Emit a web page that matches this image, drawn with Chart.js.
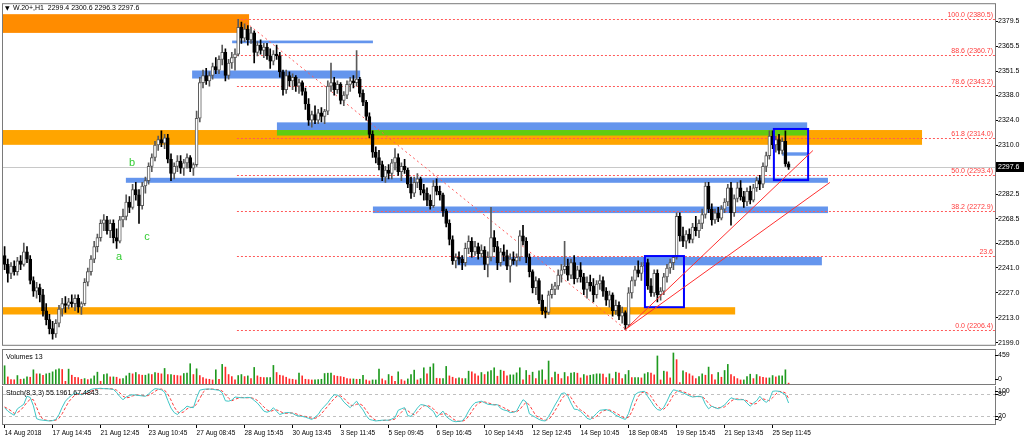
<!DOCTYPE html>
<html>
<head>
<meta charset="utf-8">
<script src="https://cdn.jsdelivr.net/npm/chart.js@4.4.0/dist/chart.umd.min.js"></script>
<style>
  html, body { margin: 0; padding: 0; background: #fff; overflow: hidden; }
  #wrap { position: relative; width: 1024px; height: 441px; }
  canvas { position: absolute; left: 0; }
</style>
</head>
<body>
<div id="wrap">
  <canvas id="priceChart" width="1024" height="349" style="top:0"></canvas>
  <canvas id="volChart" width="1024" height="36" style="top:349px"></canvas>
  <canvas id="stochChart" width="1024" height="55" style="top:386px"></canvas>
</div>
<script>
// W.20+ H1, 14 Aug - 25 Sep 2018

const symbol = 'W.20+,H1';
const dateLabels = ['14 Aug 2018', '17 Aug 14:45', '21 Aug 12:45', '23 Aug 10:45', '27 Aug 08:45',
  '28 Aug 15:45', '30 Aug 13:45', '3 Sep 11:45', '5 Sep 09:45', '6 Sep 16:45', '10 Sep 14:45',
  '12 Sep 12:45', '14 Sep 10:45', '18 Sep 08:45', '19 Sep 15:45', '21 Sep 13:45', '25 Sep 11:45'];
const LABEL_STEP = 15;   // bars between two time labels
const N_SLOTS = 310;     // bars that fit in the window (chart shift leaves the right part empty)

const priceTicks = [2379.5, 2365.5, 2351.5, 2338.0, 2324.0, 2310.0, 2282.5, 2268.5, 2255.0, 2241.0, 2227.0, 2213.0, 2199.0];
const volTicks = [459, 0];
const stochTicks = [100, 80, 20, 0];
const stochLevels = [20, 80];

const opens = [
  2248,2243,2238,2242,2239,2245,2243,2250,2246,2234, 2228,2230,2226,2217,2212,2207,2204,2210,2218,2221,
  2220,2222,2221,2224,2219,2221,2233,2239,2246,2253, 2258,2266,2268,2262,2266,2258,2256,2268,2270,2278,
  2275,2285,2282,2276,2287,2290,2298,2303,2310,2313, 2311,2314,2302,2294,2298,2301,2297,2300,2303,2297,
  2299,2325,2345,2349,2346,2349,2354,2352,2358,2362, 2349,2356,2359,2361,2376,2370,2375,2369,2373,2362,
  2366,2363,2365,2360,2357,2361,2360,2351,2341,2349, 2346,2348,2343,2345,2340,2333,2324,2327,2324,2328,
  2326,2329,2343,2345,2341,2344,2335,2338,2344,2346, 2345,2347,2339,2334,2326,2316,2306,2303,2299,2292,
  2296,2294,2300,2303,2295,2298,2296,2288,2283,2289, 2291,2285,2283,2279,2276,2287,2284,2282,2273,2266,
  2257,2245,2247,2246,2244,2252,2256,2250,2253,2249, 2251,2243,2247,2258,2253,2244,2250,2248,2242,2246,
  2245,2247,2259,2256,2247,2239,2230,2234,2223,2217, 2216,2226,2229,2231,2237,2240,2242,2237,2244,2235,
  2240,2236,2229,2233,2231,2226,2232,2234,2228,2223, 2226,2217,2220,2214,2216,2209,2227,2234,2240,2238,
  2242,2244,2231,2227,2238,2226,2228,2236,2241,2244, 2247,2270,2259,2256,2260,2257,2264,2262,2266,2271,
  2287,2274,2268,2272,2269,2274,2278,2286,2272,2280, 2286,2281,2278,2284,2279,2286,2290,2288,2298,2304,
  2315,2310,2313,2307,2312,2299.4
];
const highs = [
  2253,2246,2244,2245,2247,2248,2255,2253,2248,2236, 2233,2232,2229,2221,2215,2211,2212,2220,2224,2225,
  2224,2226,2226,2226,2222,2235,2241,2248,2256,2260, 2268,2271,2270,2268,2268,2263,2270,2274,2282,2281,
  2288,2289,2285,2289,2292,2300,2305,2312,2315,2318, 2316,2316,2305,2300,2304,2304,2302,2305,2304,2300,
  2329,2348,2352,2353,2351,2356,2359,2360,2366,2364, 2358,2362,2364,2380.5,2379,2378,2377,2376,2374,2368,
  2369,2367,2367,2364,2363,2366,2362,2352,2352,2351, 2350,2349,2347,2346,2342,2336,2329,2332,2330,2331,
  2330,2346,2356,2348,2346,2345,2340,2346,2348,2349, 2363,2348,2341,2335,2328,2318,2309,2307,2301,2298,
  2299,2302,2308,2305,2300,2302,2297,2292,2292,2294, 2292,2288,2286,2282,2290,2291,2287,2283,2274,2268,
  2259,2249,2250,2248,2255,2259,2258,2256,2255,2254, 2253,2250,2275,2262,2256,2252,2254,2251,2249,2250,
  2249,2262,2265,2258,2249,2240,2236,2235,2226,2219, 2228,2232,2233,2240,2243,2256,2246,2246,2248,2242,
  2244,2238,2236,2237,2235,2234,2237,2236,2230,2228, 2227,2223,2222,2219,2217,2230,2236,2242,2245,2244,
  2247,2246,2235,2240,2240,2230,2238,2243,2246,2248, 2272,2272,2264,2262,2263,2266,2270,2268,2274,2289,
  2289,2277,2274,2275,2276,2280,2288,2289,2282,2289, 2290,2284,2286,2287,2288,2292,2293,2300,2306,2318,
  2318,2315,2316,2314,2318,2300.6
];
const lows = [
  2240,2233,2235,2237,2237,2240,2242,2244,2232,2225, 2224,2222,2214,2209,2204,2201,2202,2208,2214,2216,
  2218,2219,2217,2216,2215,2220,2231,2237,2244,2250, 2256,2262,2260,2258,2255,2252,2255,2264,2268,2272,
  2274,2279,2266,2274,2283,2288,2295,2301,2307,2309, 2308,2300,2290,2291,2295,2294,2293,2297,2295,2293,
  2298,2323,2342,2344,2343,2347,2350,2350,2355,2346, 2347,2353,2352,2360,2367,2368,2366,2367,2356,2360,
  2361,2359,2358,2353,2355,2358,2348,2338,2339,2343, 2341,2340,2339,2338,2330,2321,2320,2322,2322,2323,
  2322,2327,2340,2338,2339,2333,2332,2336,2340,2342, 2343,2337,2332,2324,2314,2303,2300,2296,2290,2289,
  2291,2291,2296,2293,2290,2294,2286,2280,2281,2286, 2282,2279,2276,2274,2275,2282,2279,2270,2264,2254,
  2243,2241,2243,2240,2242,2249,2247,2248,2246,2247, 2240,2236,2245,2250,2240,2242,2245,2240,2233,2243,
  2242,2245,2254,2244,2236,2227,2226,2221,2215,2213, 2215,2224,2226,2229,2233,2238,2234,2235,2232,2233,
  2233,2226,2224,2228,2222,2224,2229,2225,2220,2219, 2214,2215,2212,2210,2206.4,2208,2224,2231,2236,2234,
  2239,2229,2225,2225,2222,2223,2226,2233,2238,2240, 2246,2256,2253,2252,2255,2255,2259,2258,2263,2269,
  2272,2265,2266,2267,2268,2272,2276,2265,2270,2278, 2279,2275,2276,2277,2278,2284,2285,2286,2295,2302,
  2308,2306,2305,2305,2298,2296.3
];
const closes = [
  2243,2238,2242,2239,2245,2243,2250,2246,2234,2228, 2230,2226,2217,2212,2207,2204,2210,2218,2221,2220,
  2222,2221,2224,2219,2221,2233,2239,2246,2253,2258, 2266,2268,2262,2266,2258,2256,2268,2270,2278,2275,
  2285,2282,2276,2287,2290,2298,2303,2310,2313,2311, 2314,2302,2294,2298,2301,2297,2300,2303,2297,2299,
  2325,2345,2349,2346,2349,2354,2352,2358,2362,2349, 2356,2359,2361,2376,2370,2375,2369,2373,2362,2366,
  2363,2365,2360,2357,2361,2360,2351,2341,2349,2346, 2348,2343,2345,2340,2333,2324,2327,2324,2328,2326,
  2329,2343,2345,2341,2344,2335,2338,2344,2346,2345, 2347,2339,2334,2326,2316,2306,2303,2299,2292,2296,
  2294,2300,2303,2295,2298,2296,2288,2283,2289,2291, 2285,2283,2279,2276,2287,2284,2282,2273,2266,2257,
  2245,2247,2246,2244,2252,2256,2250,2253,2249,2251, 2243,2247,2258,2253,2244,2250,2248,2242,2246,2245,
  2247,2259,2256,2247,2239,2230,2234,2223,2217,2216, 2226,2229,2231,2237,2240,2242,2237,2244,2235,2240,
  2236,2229,2233,2231,2226,2232,2234,2228,2223,2226, 2217,2220,2214,2216,2209,2227,2234,2240,2238,2242,
  2244,2231,2227,2238,2226,2228,2236,2241,2244,2247, 2270,2259,2256,2260,2257,2264,2262,2266,2271,2287,
  2274,2268,2272,2269,2274,2278,2286,2272,2280,2286, 2281,2278,2284,2279,2286,2290,2288,2298,2304,2315,
  2310,2313,2307,2312,2299.4,2297.6
];
const volumes = [
  270,105,65,62,125,70,75,105,100,210, 150,150,130,150,160,180,210,225,215,40,
  220,130,100,95,70,80,65,75,120,175, 40,140,150,105,105,100,75,80,120,160,
  150,170,140,130,130,150,140,170,160,150, 230,140,140,130,125,120,155,160,300,140,
  225,125,95,75,70,60,210,70,290,250, 140,110,60,125,140,110,120,80,245,120,
  100,95,95,95,275,170,130,120,100,75, 70,60,160,120,70,65,60,60,65,70,
  155,160,160,125,115,110,100,80,75,75, 70,70,130,60,45,60,60,220,75,50,
  140,115,40,180,65,45,75,140,205,60, 80,240,150,250,300,85,80,80,260,120,
  100,80,90,80,80,190,180,150,120,170, 140,180,200,240,115,205,190,120,135,135,
  165,240,60,200,130,175,80,195,210,60, 340,95,175,145,80,170,110,160,170,160,
  90,140,120,130,140,150,150,145,95,150, 80,175,160,80,140,200,95,95,95,90,
  150,170,160,135,415,60,190,180,90,459, 360,20,195,170,150,120,80,110,150,130,
  250,140,60,170,100,200,290,140,110,80, 60,60,110,145,80,140,110,100,90,90,
  125,105,120,120,210,13
];
const stochK = [
  43,34,28,23,40,46,52,73,70,48, 14,11,10,9,8,9,12,25,44,60,
  69,76,82,80,77,81,86,91,93,93, 94,93,93,92,91,83,72,64,71,75,
  77,76,75,74,73,79,87,93,92,90, 84,62,42,30,25,33,39,47,44,43,
  69,89,91,92,92,91,90,89,82,61, 60,63,71,70,69,69,70,69,62,55,
  45,34,31,34,43,33,25,28,30,30, 28,23,21,20,18,15,12,18,25,38,
  47,56,68,77,76,70,58,50,43,52, 60,48,37,22,12,10,8,9,10,10,
  10,13,17,36,40,43,22,20,30,42, 51,50,47,40,33,18,26,34,20,13,
  8,6,7,8,18,34,47,56,58,60, 56,52,51,50,51,41,37,35,30,31,
  34,50,64,58,27,22,17,12,9,8, 20,34,50,64,80,82,73,55,39,38,
  33,25,15,12,19,28,36,37,38,35, 30,23,19,15,12,28,55,77,83,85,
  86,72,60,47,38,36,44,60,78,90, 88,85,82,78,74,71,72,73,71,52,
  40,47,43,40,45,50,60,69,66,64, 64,64,55,47,55,61,73,63,57,64,
  86,87,86,82,77,55.1961
];
const stochD = [
  45,40,35,28,30,36,46,57,65,64, 44,24,12,10,9,9,10,15,27,43,
  58,68,76,79,80,79,81,86,90,92, 93,93,93,93,92,89,82,73,69,70,
  74,76,76,75,74,75,80,86,91,92, 89,79,63,45,32,29,32,40,43,45,
  52,67,83,91,92,92,91,90,87,77, 68,61,65,68,70,69,69,69,67,62,
  54,45,37,33,36,37,34,29,28,29, 29,27,24,21,20,18,15,15,18,27,
  37,47,57,67,74,74,68,59,50,48, 52,53,48,36,24,15,10,9,9,10,
  10,11,13,22,31,40,35,28,24,31, 41,48,49,46,40,30,26,26,27,22,
  14,9,7,7,11,20,33,46,54,58, 58,56,53,51,51,47,43,38,34,32,
  32,38,49,57,50,36,22,17,13,10, 12,21,35,49,65,75,78,70,56,44,
  37,32,24,17,15,20,28,34,37,37, 34,29,24,19,15,18,32,53,72,82,
  85,81,73,60,48,40,39,47,61,76, 85,88,85,82,78,74,72,72,72,65,
  54,46,43,43,43,45,52,60,65,66, 65,64,61,55,52,54,63,66,64,61,
  69,79,86,85,82,67.4843
];

// drawn objects: [fromBar, toBar, priceTop, priceBottom]
const supplyZones = [[-0.5, 76.4, 2383.4, 2372.9]];
const orangeZones = [[-0.5, 286.7, 2318.4, 2310.1], [-0.5, 228.3, 2219.0, 2214.9]];
const blueZones = [
  [71.1, 115.1, 2368.6, 2367.1], [58.6, 111.1, 2351.8, 2347.3], [85.1, 250.8, 2322.7, 2318.4],
  [37.9, 257.3, 2291.6, 2288.8], [115.1, 257.3, 2275.5, 2271.8], [141.4, 255.4, 2247.2, 2242.5],
  [242.9, 251.1, 2305.9, 2304.0]
];
const greenZones = [[85.1, 250.8, 2318.4, 2315.3]];
const boxes = [[200.1, 212.3, 2247.7, 2219.0], [240.4, 251.1, 2319.0, 2290.3]];
// [fromBar, fromPrice, toBar, toPrice]
const trendLines = [[193.9, 2206.4, 252.6, 2306.9], [193.9, 2206.4, 257.9, 2289.0]];
const fiboTrend = [74.2, 2380.5, 194.2, 2206.4];
const fiboStart = 72.6;
const fiboPrices = [2380.5, 2360.7, 2343.2, 2314.0, 2293.4, 2272.9, 2247.5, 2206.4];
const fiboText = ['100.0 (2380.5)', '88.6 (2360.7)', '78.6 (2343.2)', '61.8 (2314.0)', '50.0 (2293.4)',
  '38.2 (2272.9)', '23.6', '0.0 (2206.4)'];
const waveNames = ['a', 'b', 'c'];
const waveBars = [35.8, 39.8, 44.5];
const wavePrices = [2247.3, 2300.1, 2258.4];

const FONT = '"Liberation Sans", Arial, sans-serif';
Chart.defaults.font.family = FONT;
Chart.defaults.font.size = 7;
Chart.defaults.color = '#000';

const slots = Array.from({ length: N_SLOTS }, (_, i) => String(i));
const last = closes.length - 1;
const isBull = i => closes[i] >= opens[i];
const fixWidth = s => { s.width = 29; };

const framePlugin = {
  id: 'frame',
  afterDraw(chart) {
    const { ctx, chartArea: a } = chart;
    ctx.save();
    ctx.strokeStyle = '#7a7a7a';
    ctx.lineWidth = 1;
    ctx.strokeRect(a.left - 0.5, a.top - 0.5, a.right - a.left + 1, a.bottom - a.top + 1);
    ctx.restore();
  }
};

// labels of the small windows are pushed inside the frame like the terminal does
function sideLabels(values, text) {
  return {
    id: 'sideLabels',
    afterDraw(chart) {
      const { ctx, chartArea: a } = chart;
      const s = chart.scales.y;
      ctx.save();
      ctx.font = '7px ' + FONT;
      ctx.fillStyle = '#000';
      ctx.strokeStyle = '#000';
      ctx.textBaseline = 'middle';
      values.forEach(v => {
        const py = Math.min(Math.max(s.getPixelForValue(v), a.top + 5), a.bottom - 5);
        ctx.beginPath();
        ctx.moveTo(a.right, Math.round(py) + 0.5);
        ctx.lineTo(a.right + 3, Math.round(py) + 0.5);
        ctx.stroke();
        ctx.fillText(String(v), a.right + 3, py);
      });
      ctx.fillText(text, a.left + 3, a.top + 7);
      ctx.restore();
    }
  };
}

const overlayPlugin = {
  id: 'overlay',
  beforeDatasetsDraw(chart) {
    const { ctx, chartArea: a, scales: { x, y } } = chart;
    const zone = (z, color) => {
      const x0 = x.getPixelForValue(z[0]), x1 = x.getPixelForValue(z[1]);
      const y0 = y.getPixelForValue(z[2]), y1 = y.getPixelForValue(z[3]);
      ctx.fillStyle = color;
      ctx.fillRect(x0, y0, x1 - x0, y1 - y0);
    };
    ctx.save();
    ctx.beginPath();
    ctx.rect(a.left, a.top, a.right - a.left, a.bottom - a.top);
    ctx.clip();

    // bid line
    const bid = Math.round(y.getPixelForValue(closes[last])) + 0.5;
    ctx.strokeStyle = '#c8c8c8';
    ctx.lineWidth = 1;
    ctx.beginPath();
    ctx.moveTo(a.left, bid);
    ctx.lineTo(a.right, bid);
    ctx.stroke();

    supplyZones.forEach(z => zone(z, '#ff8c00'));
    orangeZones.forEach(z => zone(z, '#ffa500'));
    blueZones.forEach(z => zone(z, '#6495ed'));
    greenZones.forEach(z => zone(z, '#62cc10'));

    // fibonacci levels
    ctx.setLineDash([2, 2]);
    ctx.strokeStyle = '#ff5a5a';
    const fx = x.getPixelForValue(fiboStart);
    fiboPrices.forEach(p => {
      const py = Math.round(y.getPixelForValue(p)) + 0.5;
      ctx.beginPath();
      ctx.moveTo(fx, py);
      ctx.lineTo(a.right, py);
      ctx.stroke();
    });
    ctx.setLineDash([2, 3]);
    ctx.beginPath();
    ctx.moveTo(x.getPixelForValue(fiboTrend[0]), y.getPixelForValue(fiboTrend[1]));
    ctx.lineTo(x.getPixelForValue(fiboTrend[2]), y.getPixelForValue(fiboTrend[3]));
    ctx.stroke();
    ctx.restore();
  },
  afterDatasetsDraw(chart) {
    const { ctx, chartArea: a, scales: { x, y } } = chart;
    ctx.save();
    ctx.beginPath();
    ctx.rect(a.left, a.top, a.right - a.left, a.bottom - a.top);
    ctx.clip();

    ctx.strokeStyle = '#0000ff';
    ctx.lineWidth = 2;
    boxes.forEach(b => {
      const x0 = x.getPixelForValue(b[0]), x1 = x.getPixelForValue(b[1]);
      const y0 = y.getPixelForValue(b[2]), y1 = y.getPixelForValue(b[3]);
      ctx.strokeRect(x0, y0, x1 - x0, y1 - y0);
    });

    ctx.strokeStyle = '#ff3030';
    ctx.lineWidth = 1;
    trendLines.forEach(t => {
      ctx.beginPath();
      ctx.moveTo(x.getPixelForValue(t[0]), y.getPixelForValue(t[1]));
      ctx.lineTo(x.getPixelForValue(t[2]), y.getPixelForValue(t[3]));
      ctx.stroke();
    });

    ctx.font = '7px ' + FONT;
    ctx.fillStyle = '#ff3c3c';
    ctx.textAlign = 'right';
    ctx.textBaseline = 'bottom';
    fiboPrices.forEach((p, i) => ctx.fillText(fiboText[i], a.right - 2, y.getPixelForValue(p) - 0.5));

    ctx.font = '11px ' + FONT;
    ctx.fillStyle = '#33cc33';
    ctx.textAlign = 'center';
    ctx.textBaseline = 'middle';
    waveNames.forEach((n, i) => ctx.fillText(n, x.getPixelForValue(waveBars[i]), y.getPixelForValue(wavePrices[i])));
    ctx.restore();
  },
  afterDraw(chart) {
    const { ctx, chartArea: a, scales: { y } } = chart;
    ctx.save();
    ctx.fillStyle = '#000';
    ctx.textBaseline = 'middle';
    ctx.font = '6px "DejaVu Sans", sans-serif';
    ctx.fillText('\u25BC', a.left + 2, a.top + 4);
    ctx.font = '7px ' + FONT;
    ctx.fillText(symbol + '  ' + [opens[last], highs[last], lows[last], closes[last]].map(v => v.toFixed(1)).join(' '),
      a.left + 10, a.top + 4);

    const py = y.getPixelForValue(closes[last]);
    ctx.fillRect(a.right + 1, Math.round(py) - 5, 28, 10);
    ctx.fillStyle = '#fff';
    ctx.fillText(closes[last].toFixed(1), a.right + 3, py);
    ctx.restore();
  }
};

new Chart(document.getElementById('priceChart'), {
  type: 'bar',
  data: {
    labels: slots,
    datasets: [
      {
        // bodies
        data: opens.map((o, i) => [o, closes[i]]),
        backgroundColor: c => isBull(c.dataIndex) ? '#ffffff' : '#000000',
        borderColor: c => isBull(c.dataIndex) ? '#5a5a5a' : '#000000',
        borderWidth: 1,
        borderSkipped: false,
        barThickness: 3,
        grouped: false
      },
      {
        // wicks
        data: lows.map((l, i) => [l, highs[i]]),
        backgroundColor: c => isBull(c.dataIndex) ? '#5a5a5a' : '#000000',
        barThickness: 1,
        grouped: false
      }
    ]
  },
  options: {
    responsive: false,
    animation: false,
    events: [],
    layout: { padding: { left: 3, top: 4, right: 0, bottom: 1 } },
    plugins: { legend: { display: false }, tooltip: { enabled: false } },
    scales: {
      x: { display: false, offset: true, grid: { offset: false } },
      y: {
        position: 'right',
        min: 2197.9,
        max: 2389.0,
        afterFit: fixWidth,
        afterBuildTicks: s => { s.ticks = priceTicks.map(v => ({ value: v })); },
        ticks: { callback: v => v.toFixed(1), padding: 0, font: { size: 7 } },
        grid: { drawOnChartArea: false, tickLength: 3, color: '#000' },
        border: { display: false }
      }
    }
  },
  plugins: [overlayPlugin, framePlugin]
});

new Chart(document.getElementById('volChart'), {
  type: 'bar',
  data: {
    labels: slots,
    datasets: [{
      data: volumes,
      backgroundColor: c => c.dataIndex > 0 && volumes[c.dataIndex] < volumes[c.dataIndex - 1] ? '#ff2a2a' : '#1f9a1f',
      barThickness: 1
    }]
  },
  options: {
    responsive: false,
    animation: false,
    events: [],
    layout: { padding: { left: 3, top: 1, right: 0, bottom: 1 } },
    plugins: { legend: { display: false }, tooltip: { enabled: false } },
    scales: {
      x: { display: false, offset: true, grid: { offset: false } },
      y: {
        position: 'right', min: 0, max: 503, afterFit: fixWidth,
        ticks: { display: false }, grid: { display: false }, border: { display: false }
      }
    }
  },
  plugins: [framePlugin, sideLabels(volTicks, 'Volumes ' + volumes[last])]
});

const levelPlugin = {
  id: 'levels',
  beforeDatasetsDraw(chart) {
    const { ctx, chartArea: a, scales: { y } } = chart;
    ctx.save();
    ctx.strokeStyle = '#c0c0c0';
    ctx.setLineDash([3, 3]);
    stochLevels.forEach(v => {
      const py = Math.round(y.getPixelForValue(v)) + 0.5;
      ctx.beginPath();
      ctx.moveTo(a.left, py);
      ctx.lineTo(a.right, py);
      ctx.stroke();
    });
    ctx.restore();
  }
};

new Chart(document.getElementById('stochChart'), {
  type: 'line',
  data: {
    labels: slots,
    datasets: [
      { data: stochK, borderColor: '#3fc6c6', borderWidth: 1, pointRadius: 0, tension: 0 },
      { data: stochD, borderColor: '#ff3b3b', borderWidth: 1, borderDash: [3, 2], pointRadius: 0, tension: 0 }
    ]
  },
  options: {
    responsive: false,
    animation: false,
    events: [],
    layout: { padding: { left: 3, top: 0, right: 0, bottom: 0 } },
    plugins: { legend: { display: false }, tooltip: { enabled: false } },
    scales: {
      x: {
        offset: true,
        afterBuildTicks: s => {
          s.ticks = s.ticks.filter(t => t.value % LABEL_STEP === 0 && t.value / LABEL_STEP < dateLabels.length);
        },
        afterFit: s => { s.height = 17; },
        ticks: {
          autoSkip: false, maxRotation: 0, minRotation: 0, align: 'start', padding: 1,
          font: { size: 6.5 },
          callback: v => dateLabels[v / LABEL_STEP]
        },
        grid: { drawOnChartArea: false, offset: false, tickLength: 4, color: '#000' },
        border: { display: false }
      },
      y: {
        position: 'right', min: 0, max: 100, afterFit: fixWidth,
        ticks: { display: false }, grid: { display: false }, border: { display: false }
      }
    }
  },
  plugins: [levelPlugin, framePlugin,
    sideLabels(stochTicks, 'Stoch(8,3,3) ' + stochK[last].toFixed(4) + ' ' + stochD[last].toFixed(4))]
});
</script>
</body>
</html>
